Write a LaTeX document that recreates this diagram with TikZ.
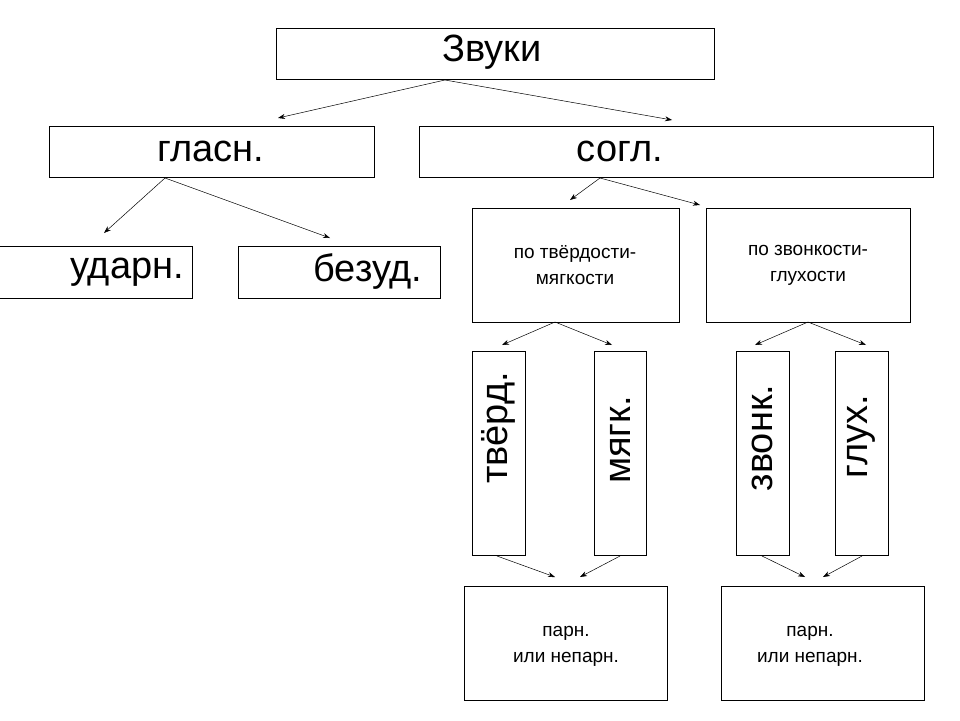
\documentclass[tikz,border=0pt]{standalone}
\usepackage{fontspec}
\setmainfont{Liberation Sans}
\usetikzlibrary{arrows.meta}
\begin{document}
\begin{tikzpicture}[x=1pt,y=-1pt,
  bx/.style={draw,line width=0.8pt},
  ar/.style={-{Stealth[length=7pt,width=5pt]},line width=0.5pt},
  big/.style={font=\fontsize{38}{40}\selectfont},
  sm/.style={font=\fontsize{19}{26}\selectfont,align=center}]
\useasboundingbox (0,0) rectangle (960,720);
\draw[bx] (276,28) rectangle (714,79); \node[big] (zv) at (492,52) {Звуки};
\draw[bx] (49,126) rectangle (374,177); \node[big] (gl) at (211,151) {гласн.};
\draw[bx] (419,126) rectangle (933,177); \node[big] (so) at (620,151) {согл.};
\draw[bx] (-5,246) rectangle (192,298); \node[big] (ud) at (127,272) {ударн.};
\draw[bx] (238,246) rectangle (440,298); \node[big] (bz) at (368,272) {безуд.};
\draw[bx] (472,208) rectangle (679,322); \node[sm] (pt) at (575,265) {по твёрдости-\\мягкости};
\draw[bx] (706,208) rectangle (910,322); \node[sm] (pz) at (808,265) {по звонкости-\\глухости};
\draw[bx] (472,351) rectangle (525,555); \node[big,rotate=90] (tv) at (498,428) {твёрд.};
\draw[bx] (594,351) rectangle (646,555); \node[big,rotate=90] (mg) at (620,440) {мягк.};
\draw[bx] (736,351) rectangle (789,555); \node[big,rotate=90] (zk) at (762,438) {звонк.};
\draw[bx] (835,351) rectangle (888,555); \node[big,rotate=90] (gx) at (861,437) {глух.};
\draw[bx] (464,586) rectangle (667,700); \node[sm] (p1) at (566,646) {парн.\\или непарн.};
\draw[bx] (721,586) rectangle (924,700); \node[sm] (p2) at (810,646) {парн.\\или непарн.};
\coordinate (a0) at (445,80); \coordinate (a1) at (278,118); \coordinate (a2) at (672,120);
\coordinate (b0) at (165,178); \coordinate (b1) at (104,233); \coordinate (b2) at (330,238);
\coordinate (c0) at (600,178); \coordinate (c1) at (570,200); \coordinate (c2) at (700,205);
\coordinate (d0) at (555,322); \coordinate (d1) at (502,345); \coordinate (d2) at (612,345);
\coordinate (e0) at (808,322); \coordinate (e1) at (755,345); \coordinate (e2) at (866,345);
\coordinate (f1) at (497,556); \coordinate (f2) at (620,556); \coordinate (f0) at (555,577); \coordinate (f3) at (580,577);
\coordinate (g1) at (762,556); \coordinate (g2) at (862,556); \coordinate (g0) at (805,577); \coordinate (g3) at (823,577);
\draw[ar] (a0)--(a1); \draw[ar] (a0)--(a2);
\draw[ar] (b0)--(b1); \draw[ar] (b0)--(b2);
\draw[ar] (c0)--(c1); \draw[ar] (c0)--(c2);
\draw[ar] (d0)--(d1); \draw[ar] (d0)--(d2);
\draw[ar] (e0)--(e1); \draw[ar] (e0)--(e2);
\draw[ar] (f1)--(f0); \draw[ar] (f2)--(f3);
\draw[ar] (g1)--(g0); \draw[ar] (g2)--(g3);
\end{tikzpicture}
\end{document}
